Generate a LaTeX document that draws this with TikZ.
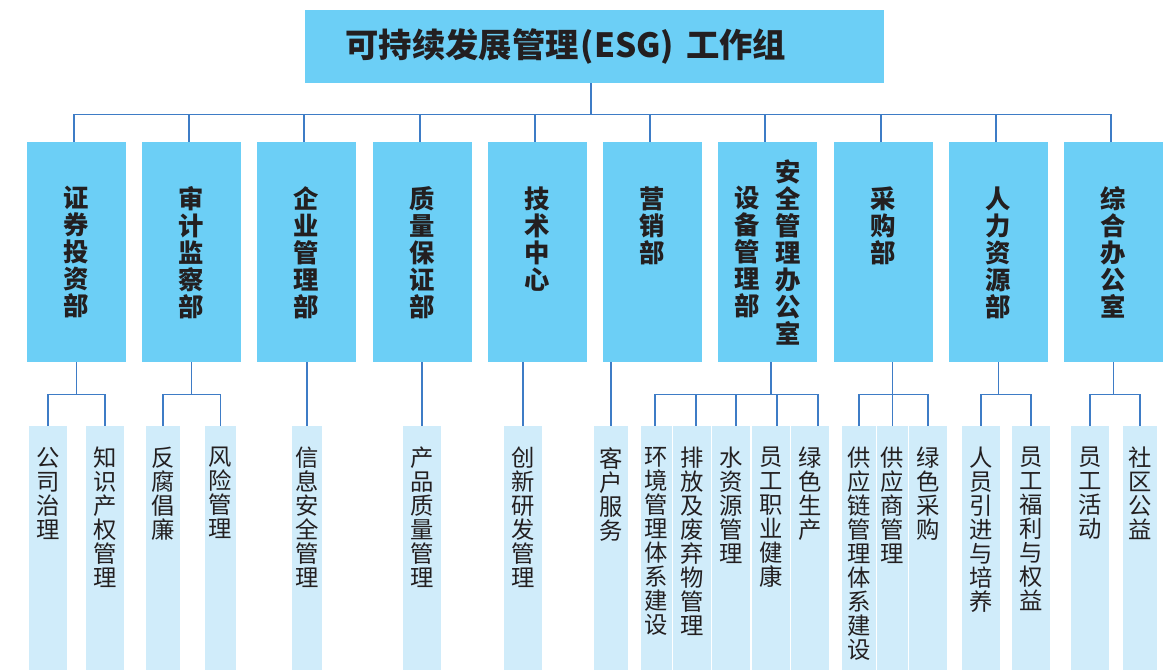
\documentclass[tikz,border=0pt]{standalone}
\usepackage{fontspec}
\setmainfont{Noto Sans CJK SC}
\definecolor{cdept}{RGB}{108,207,246}
\definecolor{csub}{RGB}{208,236,250}
\definecolor{clink}{RGB}{62,124,198}
\definecolor{ctext}{RGB}{35,31,32}
\newcommand{\dcol}[2][98.25pt]{\parbox[c][#1][t]{24pt}{\centering #2}}
\newcommand{\scol}[1]{\parbox[c][151.5pt][t]{20pt}{\centering #1}}
\tikzset{orgchart/.style={x=0.75pt,y=-0.75pt,text=ctext}}
\tikzset{topbox/.style={fill=cdept,minimum height=54.75pt,text width=373.5pt,inner xsep=30.375pt,
           inner ysep=0pt,align=left,font=\bfseries\fontsize{25}{30}\selectfont},
         deptbox/.style={fill=cdept,minimum width=74.25pt,minimum height=165pt,inner sep=0pt,
           font=\bfseries\fontsize{19}{20.25}\selectfont},
         subbox/.style={fill=csub,anchor=north,minimum width=#1,minimum height=183pt,inner sep=0pt,
           font=\fontsize{17.5}{18}\selectfont},
         subbox/.default=28.5pt,
         link/.style={clink,line width=1pt}}

\begin{document}
\begin{tikzpicture}[orgchart]
    \useasboundingbox (0,0) rectangle (1171,670);
    \node[topbox] (esg) at (594.5,46.5) {可持续发展管理\hspace{1.5pt}(ESG)\hspace{9pt}工作组};
    % departments
    \node[deptbox] (zqtz)  at (76.5,252)  {\dcol{证\\券\\投\\资\\部}};
    \node[deptbox] (sjjc)  at (191.5,252) {\dcol{审\\计\\监\\察\\部}};
    \node[deptbox] (qygl)  at (306.5,252) {\dcol{企\\业\\管\\理\\部}};
    \node[deptbox] (zlbz)  at (422.5,252) {\dcol{质\\量\\保\\证\\部}};
    \node[deptbox] (jszx)  at (537.5,252) {\dcol{技\\术\\中\\心}};
    \node[deptbox] (yxb)   at (652.5,252) {\dcol{营\\销\\部}};
    \node[deptbox] (aqsb)  at (767.5,252) {\dcol{设\\备\\管\\理\\部}\hspace{6.75pt}\dcol[138.75pt]{安\\全\\管\\理\\办\\公\\室}};
    \node[deptbox] (cgb)   at (883.5,252) {\dcol{采\\购\\部}};
    \node[deptbox] (rlzy)  at (998.5,252) {\dcol{人\\力\\资\\源\\部}};
    \node[deptbox] (zhbgs) at (1113.5,252) {\dcol{综\\合\\办\\公\\室}};
    % tasks
    \node[subbox] (gszl) at (48,426)    {\scol{公\\司\\治\\理}};
    \node[subbox] (zscq) at (105,426)   {\scol{知\\识\\产\\权\\管\\理}};
    \node[subbox=25.5pt] (ffcl) at (163,426) {\scol{反\\腐\\倡\\廉}};
    \node[subbox=23.25pt] (fxgl) at (220.5,426) {\scol{风\\险\\管\\理}};
    \node[subbox=22.5pt] (xxaq) at (307,426) {\scol{信\\息\\安\\全\\管\\理}};
    \node[subbox] (cpzl) at (422,426)   {\scol{产\\品\\质\\量\\管\\理}};
    \node[subbox] (cxyf) at (523,426)   {\scol{创\\新\\研\\发\\管\\理}};
    \node[subbox=25.5pt] (khfw) at (611,426) {\scol{客\\户\\服\\务}};
    \node[subbox=23.25pt] (hjgl) at (656.5,426) {\scol{环\\境\\管\\理\\体\\系\\建\\设}};
    \node[subbox] (pfqs) at (692,426)   {\scol{排\\放\\及\\废\\弃\\物\\管\\理}};
    \node[subbox] (szy)  at (731,426)   {\scol{水\\资\\源\\管\\理}};
    \node[subbox] (zyjk) at (771,426)   {\scol{员\\工\\职\\业\\健\\康}};
    \node[subbox] (lssc) at (810,426)   {\scol{绿\\色\\生\\产}};
    \node[subbox=25.5pt] (gyl) at (859,426) {\scol{供\\应\\链\\管\\理\\体\\系\\建\\设}};
    \node[subbox=23.25pt] (gys) at (892.5,426) {\scol{供\\应\\商\\管\\理}};
    \node[subbox] (lscg) at (928,426)   {\scol{绿\\色\\采\\购}};
    \node[subbox] (rcyj) at (981,426)   {\scol{人\\员\\引\\进\\与\\培\\养}};
    \node[subbox] (ygfl) at (1031,426)  {\scol{员\\工\\福\\利\\与\\权\\益}};
    \node[subbox] (yghd) at (1090,426)  {\scol{员\\工\\活\\动}};
    \node[subbox=25.5pt] (sqgy) at (1140,426) {\scol{社\\区\\公\\益}};
    % links
    \draw[link] ([xshift=-2.6pt]esg.south) -- ++(0,31) coordinate (bus);
    \foreach \dd in {zqtz,sjjc,qygl,zlbz,jszx,yxb,aqsb,cgb,rlzy,zhbgs}
        \draw[link] (bus) -| ([xshift=-2pt]\dd.north);
    \foreach \dd/\ca/\cb in {zqtz/gszl/zscq,sjjc/ffcl/fxgl,rlzy/rcyj/ygfl,zhbgs/yghd/sqgy}
        \draw[link] (\dd.south) -- ++(0,32) -| (\ca.north) (\dd.south) ++(0,32) -| (\cb.north);
    \foreach \dd/\ca in {qygl/xxaq,zlbz/cpzl,jszx/cxyf,yxb/khfw}
        \draw[link] (\dd.south -| \ca.north) -- (\ca.north);
    \draw[link] ([xshift=2.6pt]aqsb.south) -- ++(0,32) coordinate (bsafe);
    \foreach \ca/\dx in {hjgl/-1.1,pfqs/3,szy/3.75,zyjk/4.5,lssc/6}
        \draw[link] (bsafe) -| ([xshift=\dx pt]\ca.north);
    \draw[link] (cgb.south -| gys.north) -- ++(0,32) coordinate (bbuy);
    \foreach \ca in {gyl,gys,lscg} \draw[link] (bbuy) -| (\ca.north);
\end{tikzpicture}
\end{document}
